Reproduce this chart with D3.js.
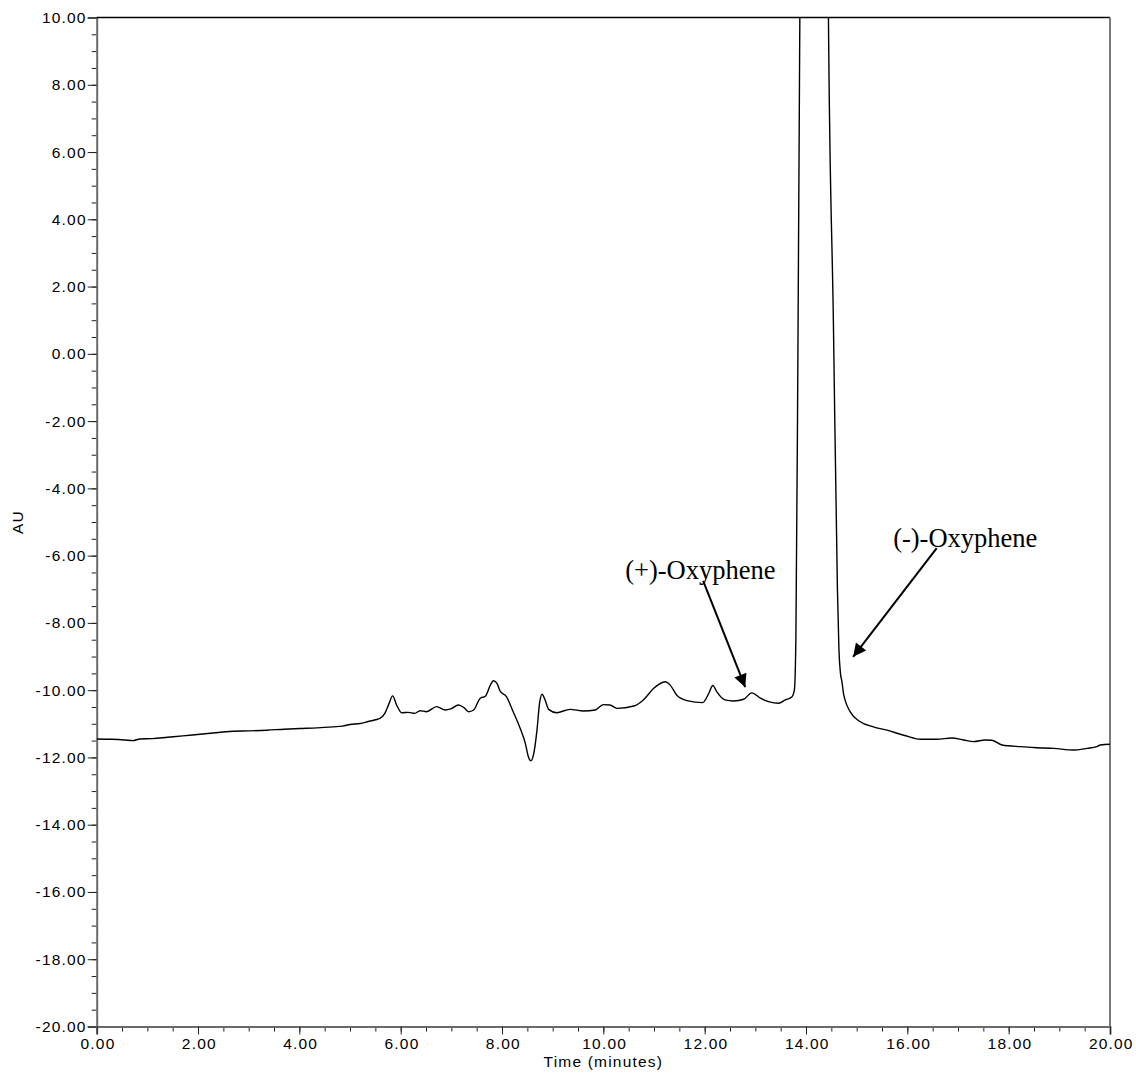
<!DOCTYPE html>
<html>
<head>
<meta charset="utf-8">
<script src="https://cdn.jsdelivr.net/npm/d3@7"></script>
<style>
  html, body { margin: 0; padding: 0; background: #fff; }
  svg { display: block; }
</style>
</head>
<body>
<svg id="chart" width="1136" height="1076"></svg>
<script>
// ---- data ----
const timeMin = [0.00,0.30,0.55,0.72,0.85,1.10,1.40,1.70,2.04,2.40,2.70,3.00,3.36,3.70,4.01,4.35,4.67,4.85,5.00,5.20,5.34,5.50,5.59,5.69,5.77,5.84,5.92,6.02,6.15,6.28,6.38,6.51,6.71,6.88,7.00,7.14,7.25,7.34,7.44,7.57,7.67,7.77,7.83,7.90,7.96,8.09,8.22,8.36,8.46,8.52,8.57,8.62,8.69,8.74,8.79,8.85,8.92,9.08,9.34,9.61,9.84,10.00,10.13,10.27,10.60,10.79,10.99,11.22,11.32,11.45,11.65,11.96,12.08,12.16,12.24,12.40,12.57,12.77,12.93,13.10,13.26,13.46,13.59,13.72,13.77,13.80,13.84,13.88,13.95,14.15,14.38,14.44,14.54,14.62,14.65,14.68,14.71,14.74,14.77,14.87,15.07,15.33,15.60,15.93,16.26,16.58,16.88,17.11,17.31,17.54,17.67,17.87,18.23,18.56,18.89,19.28,19.55,19.74,19.81,20.00];
const auValue = [-11.45,-11.46,-11.48,-11.50,-11.45,-11.44,-11.40,-11.36,-11.31,-11.26,-11.22,-11.21,-11.19,-11.16,-11.14,-11.12,-11.09,-11.07,-11.02,-10.99,-10.94,-10.88,-10.84,-10.68,-10.40,-10.17,-10.44,-10.67,-10.66,-10.69,-10.61,-10.64,-10.49,-10.59,-10.55,-10.44,-10.52,-10.64,-10.59,-10.24,-10.18,-9.85,-9.72,-9.80,-10.02,-10.20,-10.64,-11.14,-11.58,-11.98,-12.10,-11.93,-11.19,-10.40,-10.12,-10.29,-10.57,-10.67,-10.57,-10.62,-10.59,-10.43,-10.44,-10.54,-10.47,-10.29,-9.95,-9.75,-9.85,-10.15,-10.31,-10.37,-10.10,-9.86,-10.05,-10.29,-10.32,-10.27,-10.08,-10.24,-10.34,-10.39,-10.29,-10.20,-10.00,-8.50,0.00,10.50,30.0,45.0,30.0,10.50,1.00,-7.00,-8.80,-9.50,-9.75,-10.10,-10.29,-10.64,-10.94,-11.09,-11.19,-11.34,-11.46,-11.46,-11.42,-11.48,-11.53,-11.48,-11.49,-11.63,-11.68,-11.71,-11.73,-11.78,-11.73,-11.68,-11.63,-11.61];

const xMajorTicks = [0,2,4,6,8,10,12,14,16,18,20];
const yMajorTicks = [10,8,6,4,2,0,-2,-4,-6,-8,-10,-12,-14,-16,-18,-20];
const xTitle = "Time (minutes)";
const yTitle = "AU";
const annotLabels = ["(+)-Oxyphene", "(-)-Oxyphene"];
const annotTextPos = [[10.43, -6.70], [15.72, -5.75]];   // [time, AU] of label start (baseline)
const annotArrowFrom = [[11.97, -6.75], [16.58, -5.78]];
const annotArrowTo = [[12.80, -9.91], [14.93, -9.01]];

// ---- layout ----
const svg = d3.select("#chart");
const padL = 96.7, padR = 1110, padT = 17.5, padB = 1026.5;

const x = d3.scaleLinear().domain([0, 20]).range([padL, padR]);
const y = d3.scaleLinear().domain([-20, 10]).range([padB, padT]);
const fmt = d => d.toFixed(2);

const minorX = d3.range(0, 20.001, 0.5);
const minorY = d3.range(-20, 10.001, 0.5);

const axisFont = "'Liberation Sans', Arial, sans-serif";

const defs = svg.append("defs");
defs.append("clipPath").attr("id", "plotclip")
  .append("rect").attr("x", padL).attr("y", padT).attr("width", padR - padL).attr("height", padB - padT);

defs.append("marker")
  .attr("id", "arrowhead").attr("viewBox", "0 0 10 10")
  .attr("refX", 10).attr("refY", 5)
  .attr("markerWidth", 17).attr("markerHeight", 13)
  .attr("markerUnits", "userSpaceOnUse")
  .attr("orient", "auto")
  .append("path").attr("d", "M0,0 L10,5 L0,10 Z").attr("fill", "#000");

// minor ticks
const gMinY = svg.append("g").attr("transform", `translate(${padL},0)`)
  .call(d3.axisLeft(y).tickValues(minorY).tickSize(5).tickFormat(""));
const gMinX = svg.append("g").attr("transform", `translate(0,${padB})`)
  .call(d3.axisBottom(x).tickValues(minorX).tickSize(5).tickFormat(""));
[gMinY, gMinX].forEach(g => {
  g.select(".domain").remove();
  g.selectAll(".tick line").attr("stroke", "#222").attr("stroke-width", 1);
});

// major axes
const gY = svg.append("g").attr("transform", `translate(${padL},0)`)
  .call(d3.axisLeft(y).tickValues(yMajorTicks).tickSize(9).tickPadding(1).tickFormat(fmt));
const gX = svg.append("g").attr("transform", `translate(0,${padB})`)
  .call(d3.axisBottom(x).tickValues(xMajorTicks).tickSize(8).tickPadding(3).tickFormat(fmt));
[gY, gX].forEach(g => {
  g.select(".domain").attr("stroke", "#6a6a6a").attr("stroke-width", 2);
  g.selectAll(".tick line").attr("stroke", "#222").attr("stroke-width", 1);
  g.selectAll(".tick text")
    .attr("fill", "#000")
    .style("font-family", axisFont)
    .style("font-size", "15.5px")
    .style("letter-spacing", "1.2px");
});
gX.selectAll(".tick text").attr("dx", "0.05em");

// frame: top (black) and right (gray)
svg.append("line").attr("x1", padL).attr("x2", padR).attr("y1", padT).attr("y2", padT)
  .attr("stroke", "#000").attr("stroke-width", 1.5);
svg.append("line").attr("x1", padR).attr("x2", padR).attr("y1", padT).attr("y2", padB)
  .attr("stroke", "#7a7a7a").attr("stroke-width", 2);

// trace
const pts = timeMin.map((t, i) => [t, auValue[i]]);
const line = d3.line().x(d => x(d[0])).y(d => y(d[1])).curve(d3.curveMonotoneX);
svg.append("path")
  .datum(pts)
  .attr("clip-path", "url(#plotclip)")
  .attr("d", line)
  .attr("fill", "none")
  .attr("stroke", "#000")
  .attr("stroke-width", 1.4)
  .attr("stroke-linejoin", "round");

// axis titles
svg.append("text")
  .attr("x", (padL + padR) / 2).attr("y", 1067)
  .attr("text-anchor", "middle")
  .style("font-family", axisFont).style("font-size", "15.5px").style("letter-spacing", "1.2px")
  .text(xTitle);
svg.append("text")
  .attr("transform", `translate(23,${(padT + padB) / 2}) rotate(-90)`)
  .attr("text-anchor", "middle")
  .style("font-family", axisFont).style("font-size", "15.5px").style("letter-spacing", "1.2px")
  .text(yTitle);

// annotations
annotLabels.forEach((lab, i) => {
  svg.append("text")
    .attr("x", x(annotTextPos[i][0])).attr("y", y(annotTextPos[i][1]))
    .style("font-family", "'Liberation Serif', 'Times New Roman', serif")
    .style("font-size", "26.5px")
    .attr("fill", "#000")
    .text(lab);
  svg.append("line")
    .attr("x1", x(annotArrowFrom[i][0])).attr("y1", y(annotArrowFrom[i][1]))
    .attr("x2", x(annotArrowTo[i][0])).attr("y2", y(annotArrowTo[i][1]))
    .attr("stroke", "#000").attr("stroke-width", 2)
    .attr("marker-end", "url(#arrowhead)");
});
</script>
</body>
</html>
